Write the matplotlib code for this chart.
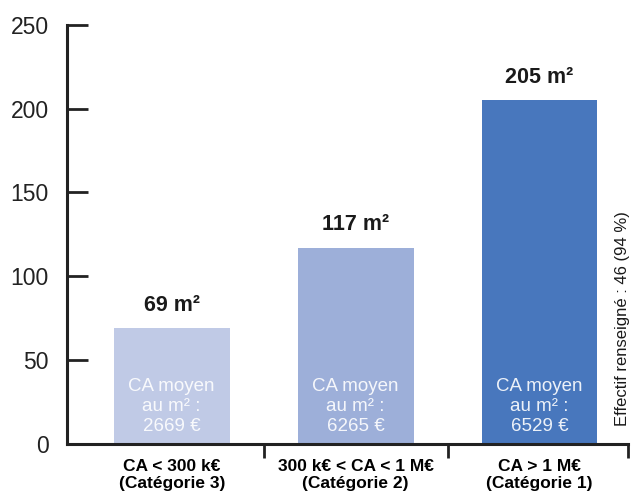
import matplotlib
matplotlib.use('Agg')
import matplotlib.pyplot as plt

# data
categories = ['CA < 300 k€\n(Catégorie 3)', '300 k€ < CA < 1 M€\n(Catégorie 2)', 'CA > 1 M€\n(Catégorie 1)']
surface = [69, 117, 205]
ca_m2 = ['2669', '6265', '6529']
colors = ['#c0cae6', '#9dafd9', '#4877bd']

plt.rcParams['font.family'] = ['Liberation Sans', 'DejaVu Sans']

fig = plt.figure(figsize=(6.31, 4.97), dpi=100)
ax = fig.add_axes([0.106, 0.107, 0.889, 0.843])

x = range(len(surface))
ax.bar(x, surface, width=0.63, color=colors, zorder=2)

for i, v in enumerate(surface):
    ax.annotate('%i m²' % v, (i, v), xytext=(0, 9), textcoords='offset points',
                ha='center', va='bottom', fontsize=15.5, fontweight='bold', color='#1a1a1a')
    ax.text(i, 5, 'CA moyen\nau m² :\n%s €' % ca_m2[i], ha='center', va='bottom',
            fontsize=13.5, color='white', alpha=0.9, linespacing=1.25)

ax.set_xlim(-0.57, 2.48)
ax.set_ylim(0, 250)
ax.set_yticks([0, 50, 100, 150, 200, 250])
ax.tick_params(axis='y', direction='in', length=15, width=2, labelsize=16.5, pad=13, colors='#222222')
ax.set_xticks([0.5, 1.5, 2.48])
ax.set_xticklabels([])
ax.tick_params(axis='x', which='major', direction='out', length=10, width=2, color='#222222')
ax.set_xticks(list(x), minor=True)
ax.set_xticklabels(categories, minor=True, fontweight='bold', fontsize=12.5, linespacing=1.2)
ax.tick_params(axis='x', which='minor', length=0, pad=11)

for s in ['top', 'right']:
    ax.spines[s].set_visible(False)
for s in ['left', 'bottom']:
    ax.spines[s].set_linewidth(2.2)
    ax.spines[s].set_color('#222222')

fig.text(0.986, 0.36, 'Effectif renseigné : 46 (94 %)', rotation=90, ha='center', va='center',
         fontsize=12, color='#1a1a1a')

fig.savefig('out.png', dpi=100)
